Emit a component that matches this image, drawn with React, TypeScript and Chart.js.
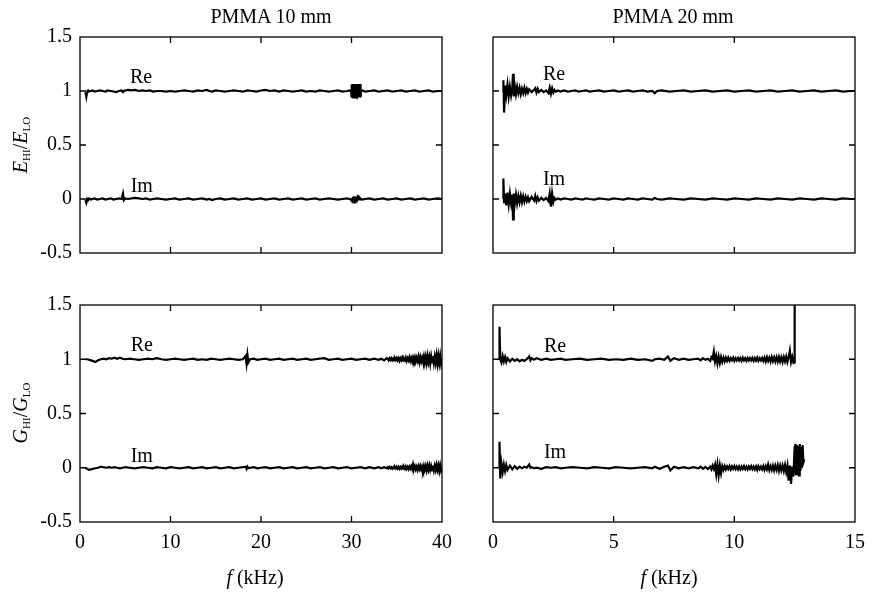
import React, { useEffect, useRef } from "react";
import { Chart, registerables } from "chart.js";

Chart.register(...registerables);

const FONT = '"Liberation Serif", "Times New Roman", serif';

// ---------- Data ----------
// Panel: E_HI/E_LO, PMMA 10 mm
const fE10 = [
  0.6, 0.7, 0.8, 0.9, 1.0, 1.2, 1.4, 1.6, 1.9, 2.2,
  2.5, 2.8, 3.1, 3.4, 3.7, 4.0, 4.3, 4.6, 4.75, 4.85,
  5.0, 5.3, 5.7, 6.1, 6.5, 6.9, 7.3, 7.7, 8.1, 8.5,
  9.0, 9.5, 10.0, 10.5, 11.0, 11.5, 12.0, 12.5, 13.0, 13.5,
  14.0, 14.3, 14.6, 15.0, 15.5, 16.0, 16.5, 17.0, 17.5, 18.0,
  18.5, 19.0, 19.5, 20.0, 20.5, 21.0, 21.5, 22.0, 22.5, 23.0,
  23.5, 24.0, 24.5, 25.0, 25.5, 26.0, 26.5, 27.0, 27.5, 28.0,
  28.5, 29.0, 29.5, 29.8, 29.95, 30.0, 30.05, 30.1, 30.15, 30.2,
  30.25, 30.3, 30.35, 30.4, 30.45, 30.5, 30.55, 30.6, 30.65, 30.7,
  30.75, 30.8, 30.85, 30.9, 30.95, 31.0, 31.05, 31.2, 31.5, 32.0,
  32.5, 33.0, 33.5, 34.0, 34.5, 35.0, 35.5, 36.0, 36.5, 37.0,
  37.5, 38.0, 38.5, 39.0, 39.5, 40.0,
];
const reE10 = [
  0.99, 0.945, 0.995, 1.005, 0.995, 1.0, 1.005, 0.995, 1.0, 1.005,
  1.0, 0.995, 1.005, 1.0, 0.995, 0.99, 1.0, 1.005, 0.99, 1.0,
  1.005, 1.01, 1.005, 1.01, 1.0, 1.005, 1.0, 1.005, 0.995, 1.0,
  1.0, 0.995, 1.0, 0.995, 1.0, 1.005, 1.0, 0.995, 1.005, 1.0,
  1.01, 1.0, 0.995, 1.005, 1.0, 0.995, 1.0, 1.005, 1.0, 0.995,
  1.005, 1.0, 0.995, 1.005, 1.01, 1.0, 1.005, 0.995, 1.005, 1.0,
  0.995, 1.0, 1.005, 0.995, 1.0, 0.995, 1.005, 1.0, 0.995, 1.0,
  1.005, 0.995, 1.0, 1.005, 0.995, 0.94, 1.06, 0.945, 1.065, 0.94,
  1.06, 0.95, 1.065, 0.94, 1.06, 0.945, 1.06, 0.94, 1.065, 0.95,
  1.06, 0.94, 1.06, 0.945, 1.065, 0.94, 1.0, 1.005, 0.995, 1.0,
  1.005, 0.995, 1.0, 1.005, 0.995, 1.0, 1.005, 0.995, 1.0, 1.005,
  0.995, 1.0, 1.005, 0.995, 1.0, 1.0,
];
const imE10 = [
  -0.01, -0.035, 0.0, -0.01, 0.005, -0.005, 0.0, 0.005, -0.005, 0.0,
  0.005, -0.005, 0.0, 0.005, -0.005, 0.0, 0.005, 0.0, 0.05, -0.01,
  0.005, 0.0, 0.005, 0.01, 0.005, 0.0, 0.005, -0.005, 0.0, 0.005,
  0.0, -0.005, 0.0, 0.005, -0.005, 0.0, 0.005, -0.005, 0.0, 0.005,
  -0.005, 0.0, -0.01, 0.0, 0.005, -0.005, 0.0, 0.005, -0.005, 0.0,
  0.005, -0.005, 0.0, 0.005, -0.005, 0.0, 0.005, -0.005, 0.0, 0.005,
  -0.005, 0.0, 0.005, -0.005, 0.0, 0.005, -0.005, 0.0, 0.005, 0.0,
  -0.005, 0.0, 0.005, 0.0, -0.005, 0.005, -0.003, 0.005, -0.003, 0.006,
  -0.003, 0.005, -0.004, 0.005, -0.003, 0.006, -0.004, 0.005, -0.003, 0.005,
  -0.003, 0.004, -0.003, 0.005, -0.003, 0.004, 0.0, -0.005, 0.0, 0.005,
  -0.005, 0.0, 0.005, -0.005, 0.0, 0.005, -0.005, 0.0, 0.005, -0.005,
  0.0, 0.005, -0.005, 0.0, 0.005, 0.0,
];

// Panel: E_HI/E_LO, PMMA 20 mm
const fE20 = [
  0.42, 0.43, 0.46, 0.5, 0.55, 0.6, 0.65, 0.7, 0.75, 0.8,
  0.83, 0.86, 0.9, 0.95, 1.0, 1.05, 1.1, 1.15, 1.2, 1.25,
  1.3, 1.35, 1.4, 1.45, 1.5, 1.6, 1.7, 1.75, 1.8, 1.85,
  1.9, 2.0, 2.1, 2.2, 2.3, 2.35, 2.4, 2.45, 2.5, 2.55,
  2.6, 2.7, 2.8, 2.95, 3.1, 3.25, 3.4, 3.55, 3.7, 3.85,
  4.0, 4.2, 4.4, 4.6, 4.8, 5.0, 5.2, 5.4, 5.6, 5.8,
  6.0, 6.2, 6.4, 6.6, 6.7, 6.8, 7.0, 7.3, 7.6, 7.9,
  8.2, 8.5, 8.8, 9.1, 9.4, 9.7, 10.0, 10.3, 10.6, 10.9,
  11.2, 11.5, 11.8, 12.1, 12.4, 12.7, 13.0, 13.3, 13.6, 13.9,
  14.2, 14.5, 14.8, 15.0,
];
const reE20 = [
  1.0, 1.1, 0.8, 1.05, 0.96, 1.06, 0.95, 1.04, 0.96, 1.03,
  1.16, 0.95, 1.05, 0.97, 1.04, 0.98, 1.03, 0.97, 1.02, 0.98,
  1.03, 0.98, 1.02, 0.985, 1.015, 0.99, 1.01, 1.025, 0.985, 1.02,
  0.99, 1.01, 0.99, 1.005, 0.98, 1.03, 0.975, 1.025, 0.985, 1.01,
  0.995, 1.005, 0.995, 1.005, 0.995, 1.0, 1.005, 0.995, 1.0, 1.005,
  0.995, 1.0, 1.005, 0.995, 1.0, 1.005, 0.995, 1.0, 1.005, 0.995,
  1.0, 1.005, 0.995, 1.0, 0.98, 1.0, 1.005, 0.995, 1.0, 1.005,
  0.995, 1.0, 1.005, 0.995, 1.0, 1.005, 0.995, 1.0, 1.005, 0.995,
  1.0, 1.005, 0.995, 1.0, 1.005, 0.995, 1.0, 1.005, 0.995, 1.0,
  1.005, 0.995, 1.0, 1.0,
];
const imE20 = [
  0.0, 0.19, -0.04, 0.05, -0.06, 0.06, -0.05, 0.05, -0.04, 0.04,
  -0.19, 0.05, -0.05, 0.04, -0.04, 0.03, -0.03, 0.03, -0.03, 0.025,
  -0.025, 0.02, -0.02, 0.015, -0.02, 0.02, -0.015, 0.03, -0.02, 0.015,
  -0.015, 0.01, -0.01, 0.01, -0.02, 0.05, -0.07, 0.05, -0.03, 0.01,
  -0.005, 0.005, -0.005, 0.005, 0.0, -0.005, 0.005, 0.0, -0.005, 0.005,
  0.0, -0.005, 0.005, 0.0, -0.005, 0.005, 0.0, -0.005, 0.005, 0.0,
  -0.005, 0.005, 0.0, -0.005, 0.01, 0.0, -0.005, 0.005, 0.0, -0.005,
  0.005, 0.0, -0.005, 0.005, 0.0, -0.005, 0.005, 0.0, -0.005, 0.005,
  0.0, -0.005, 0.005, 0.0, -0.005, 0.005, 0.0, -0.005, 0.005, 0.0,
  -0.005, 0.005, 0.0, 0.0,
];

// Panel: G_HI/G_LO, PMMA 10 mm
const fG10 = [
  0.6, 0.8, 1.0, 1.2, 1.4, 1.7, 2.0, 2.3, 2.6, 2.9,
  3.2, 3.5, 3.8, 4.1, 4.4, 4.7, 5.0, 5.5, 6.0, 6.5,
  7.0, 7.5, 8.0, 8.5, 9.0, 9.5, 10.0, 10.5, 11.0, 11.5,
  12.0, 12.5, 13.0, 13.5, 14.0, 14.5, 15.0, 15.5, 16.0, 16.5,
  17.0, 17.5, 18.0, 18.3, 18.4, 18.5, 18.6, 18.8, 19.2, 19.6,
  20.0, 20.5, 21.0, 21.5, 22.0, 22.5, 23.0, 23.5, 24.0, 24.5,
  25.0, 25.5, 26.0, 26.5, 27.0, 27.5, 28.0, 28.5, 29.0, 29.5,
  30.0, 30.5, 31.0, 31.5, 32.0, 32.5, 33.0, 33.3, 33.6, 33.9,
  34.0, 34.1, 34.2, 34.3, 34.4, 34.5, 34.6, 34.7, 34.8, 34.9,
  35.0, 35.1, 35.2, 35.3, 35.4, 35.5, 35.6, 35.7, 35.8, 35.9,
  36.0, 36.1, 36.2, 36.3, 36.4, 36.5, 36.6, 36.7, 36.8, 36.9,
  37.0, 37.1, 37.2, 37.3, 37.4, 37.5, 37.6, 37.7, 37.8, 37.9,
  38.0, 38.1, 38.2, 38.3, 38.4, 38.5, 38.6, 38.7, 38.8, 38.9,
  39.0, 39.1, 39.2, 39.3, 39.4, 39.5, 39.6, 39.7, 39.8, 39.9,
  40.0,
];
const reG10 = [
  1.0, 1.0, 0.995, 0.99, 0.985, 0.975, 0.99, 1.0, 1.005, 1.0,
  1.01, 1.005, 1.015, 1.005, 1.015, 1.005, 1.0, 1.005, 1.0, 0.995,
  1.0, 1.005, 1.0, 1.01, 1.0, 0.995, 1.0, 1.005, 1.0, 0.995,
  1.0, 1.005, 0.995, 1.0, 0.995, 1.005, 1.0, 0.995, 1.0, 1.005,
  1.0, 0.995, 1.0, 1.03, 0.96, 1.04, 0.97, 1.0, 1.005, 0.995,
  1.0, 1.005, 0.995, 1.0, 1.005, 0.995, 1.0, 1.005, 0.995, 1.0,
  1.005, 0.995, 1.0, 1.005, 1.01, 0.995, 1.0, 1.005, 0.995, 1.0,
  1.005, 0.995, 1.0, 1.005, 0.995, 1.005, 0.995, 1.005, 0.99, 1.01,
  1.005, 0.99, 1.01, 0.995, 1.01, 0.99, 1.005, 0.99, 1.01, 0.995,
  1.012, 0.99, 1.008, 0.985, 1.01, 0.992, 1.015, 0.988, 1.005, 0.99,
  1.015, 0.985, 1.01, 0.99, 1.02, 0.985, 1.012, 0.98, 1.018, 0.99,
  1.02, 0.98, 1.015, 0.985, 1.025, 0.975, 1.02, 0.98, 1.015, 0.978,
  1.025, 0.97, 1.02, 0.965, 1.03, 0.975, 1.02, 0.96, 1.025, 0.97,
  1.03, 0.965, 1.025, 0.97, 1.035, 0.96, 1.03, 0.965, 1.03, 0.96,
  1.0,
];
const imG10 = [
  0.0, -0.01, -0.02, -0.015, -0.01, -0.005, 0.0, 0.01, 0.005, 0.0,
  0.005, 0.0, 0.005, 0.0, -0.005, 0.0, 0.005, 0.0, -0.005, 0.0,
  0.005, 0.0, -0.005, 0.005, 0.0, -0.005, 0.005, 0.0, -0.005, 0.0,
  0.005, -0.005, 0.0, 0.005, -0.005, 0.0, 0.005, -0.005, 0.0, 0.005,
  -0.005, 0.0, 0.005, 0.01, -0.01, 0.01, -0.005, 0.0, 0.005, -0.005,
  0.0, 0.005, -0.005, 0.0, 0.005, -0.005, 0.0, 0.005, -0.005, 0.0,
  0.005, -0.005, 0.0, 0.005, -0.005, 0.0, 0.005, -0.005, 0.0, 0.005,
  -0.005, 0.0, 0.005, -0.005, 0.005, -0.005, 0.005, -0.005, 0.005, -0.005,
  0.005, -0.005, 0.008, -0.004, 0.006, -0.008, 0.004, -0.006, 0.008, -0.005,
  0.01, -0.008, 0.006, -0.01, 0.008, -0.006, 0.01, -0.008, 0.006, -0.01,
  0.012, -0.01, 0.008, -0.012, 0.01, -0.008, 0.014, -0.01, 0.03, -0.012,
  0.015, -0.015, 0.01, -0.02, 0.015, -0.012, 0.018, -0.015, 0.012, -0.02,
  0.018, -0.02, 0.015, -0.025, 0.02, -0.018, 0.022, -0.02, 0.015, -0.025,
  0.02, -0.025, 0.018, -0.02, 0.025, -0.02, 0.02, -0.03, 0.022, -0.025,
  0.0,
];

// Panel: G_HI/G_LO, PMMA 20 mm
const fG20 = [
  0.25, 0.27, 0.3, 0.35, 0.4, 0.45, 0.5, 0.55, 0.6, 0.7,
  0.8, 0.9, 1.0, 1.1, 1.2, 1.3, 1.4, 1.5, 1.55, 1.6,
  1.7, 1.8, 2.0, 2.2, 2.4, 2.6, 2.8, 3.0, 3.3, 3.6,
  3.9, 4.2, 4.5, 4.8, 5.1, 5.4, 5.7, 6.0, 6.3, 6.6,
  6.7, 6.9, 7.1, 7.25, 7.35, 7.5, 7.7, 7.9, 8.1, 8.3,
  8.5, 8.6, 8.7, 8.8, 8.9, 9.0, 9.05, 9.1, 9.15, 9.2,
  9.25, 9.3, 9.35, 9.4, 9.45, 9.5, 9.55, 9.6, 9.65, 9.7,
  9.75, 9.8, 9.85, 9.9, 9.95, 10.0, 10.05, 10.1, 10.15, 10.2,
  10.25, 10.3, 10.35, 10.4, 10.45, 10.5, 10.55, 10.6, 10.65, 10.7,
  10.75, 10.8, 10.85, 10.9, 10.95, 11.0, 11.05, 11.1, 11.15, 11.2,
  11.25, 11.3, 11.35, 11.4, 11.45, 11.5, 11.55, 11.6, 11.65, 11.7,
  11.75, 11.8, 11.85, 11.9, 11.95, 12.0, 12.05, 12.1, 12.15, 12.2,
  12.25, 12.3, 12.35, 12.4, 12.45, 12.5, 12.5, 12.53, 12.56, 12.59,
  12.62, 12.65, 12.68, 12.71, 12.74, 12.77, 12.8, 12.83, 12.86, 12.9,
];
const reG20 = [
  1.0, 1.3, 1.0, 0.97, 1.03, 0.98, 1.02, 0.975, 1.01, 0.98,
  1.005, 0.985, 1.0, 0.98, 0.995, 0.985, 1.0, 1.025, 0.99, 1.01,
  0.995, 1.01, 0.995, 1.005, 0.995, 1.0, 1.005, 0.995, 1.0, 1.005,
  0.995, 1.0, 1.005, 0.995, 1.0, 0.995, 1.005, 0.995, 1.0, 0.985,
  1.0, 1.005, 0.995, 1.025, 0.985, 1.01, 0.995, 1.005, 0.995, 1.0,
  1.005, 0.99, 1.01, 0.995, 1.005, 0.985, 1.02, 1.005, 1.07, 0.98,
  1.03, 0.96, 1.025, 0.965, 1.02, 0.975, 1.015, 0.98, 1.015, 0.985,
  1.015, 0.985, 1.01, 0.99, 1.015, 0.985, 1.01, 0.99, 1.012, 0.988,
  1.01, 0.985, 1.015, 0.99, 1.01, 0.985, 1.012, 0.988, 1.01, 0.99,
  1.012, 0.985, 1.01, 0.988, 1.015, 0.985, 1.01, 0.99, 1.012, 0.985,
  1.015, 0.98, 1.02, 0.985, 1.015, 0.978, 1.02, 0.982, 1.018, 0.98,
  1.02, 0.978, 1.022, 0.98, 1.018, 0.975, 1.02, 0.98, 1.025, 0.975,
  1.02, 1.08, 0.975, 1.02, 0.965, 0.97, 2.0, null, null, null,
  null, null, null, null, null, null, null, null, null, null,
];
const imG20 = [
  0.0, 0.24, -0.1, 0.04, -0.04, 0.03, -0.03, 0.025, -0.02, 0.02,
  -0.015, 0.015, -0.01, 0.01, -0.005, 0.01, 0.0, 0.03, 0.0, 0.005,
  -0.005, 0.0, -0.01, 0.005, 0.0, 0.005, -0.005, 0.0, 0.005, 0.0,
  -0.005, 0.005, 0.0, -0.005, 0.005, 0.0, -0.005, 0.0, 0.005, -0.005,
  0.01, -0.01, 0.01, 0.02, -0.025, 0.01, -0.005, 0.005, -0.005, 0.005,
  -0.005, 0.01, -0.01, 0.008, -0.012, 0.01, -0.015, 0.02, -0.01, 0.03,
  -0.06, 0.03, -0.07, 0.02, -0.05, 0.015, -0.02, 0.015, -0.015, 0.012,
  -0.012, 0.015, -0.015, 0.012, -0.01, 0.015, -0.012, 0.01, -0.015, 0.012,
  -0.015, 0.012, -0.01, 0.015, -0.012, 0.01, -0.015, 0.012, -0.01, 0.015,
  -0.012, 0.01, -0.015, 0.012, -0.02, 0.015, -0.012, 0.01, -0.015, 0.015,
  -0.02, 0.015, -0.015, 0.03, -0.02, 0.015, -0.02, 0.02, -0.025, 0.02,
  -0.02, 0.025, -0.03, 0.02, -0.025, 0.02, -0.03, 0.025, -0.04, 0.02,
  -0.12, 0.02, -0.15, 0.01, -0.08, 0.2, -0.05, 0.22, -0.06, 0.21,
  -0.04, 0.2, -0.07, 0.22, -0.03, 0.19, 0.0, 0.21, 0.05, 0.08,
];

const yTicks = [-0.5, 0, 0.5, 1, 1.5];

type Label = { text: string; x: number; y: number };
type Spec = {
  left: number; top: number; w: number; h: number;
  padL: number; padR: number; padT: number; padB: number;
  yAxisW: number; xAxisH: number;
  showX: boolean; showY: boolean;
  xMax: number; xStep: number;
  f: number[]; re: (number | null)[]; im: (number | null)[];
  labels: Label[];
};

const specs: Spec[] = [
  {
    left: 0, top: 0, w: 465, h: 270, padL: 0, padR: 23, padT: 37, padB: 17,
    yAxisW: 80, xAxisH: 0, showX: false, showY: true, xMax: 40, xStep: 10,
    f: fE10, re: reE10, im: imE10,
    labels: [{ text: "Re", x: 5.52, y: 1.076 }, { text: "Im", x: 5.6, y: 0.064 }],
  },
  {
    left: 465, top: 0, w: 404, h: 270, padL: 0, padR: 14, padT: 37, padB: 17,
    yAxisW: 28, xAxisH: 0, showX: false, showY: false, xMax: 15, xStep: 5,
    f: fE20, re: reE20, im: imE20,
    labels: [{ text: "Re", x: 2.07, y: 1.1 }, { text: "Im", x: 2.07, y: 0.13 }],
  },
  {
    left: 0, top: 270, w: 465, h: 323, padL: 0, padR: 23, padT: 35, padB: 31,
    yAxisW: 80, xAxisH: 40, showX: true, showY: true, xMax: 40, xStep: 10,
    f: fG10, re: reG10, im: imG10,
    labels: [{ text: "Re", x: 5.6, y: 1.074 }, { text: "Im", x: 5.6, y: 0.056 }],
  },
  {
    left: 465, top: 270, w: 404, h: 323, padL: 0, padR: 14, padT: 35, padB: 31,
    yAxisW: 28, xAxisH: 40, showX: true, showY: false, xMax: 15, xStep: 5,
    f: fG20, re: reG20, im: imG20,
    labels: [{ text: "Re", x: 2.11, y: 1.065 }, { text: "Im", x: 2.11, y: 0.093 }],
  },
];

const framePlugin = {
  id: "frameTicks",
  afterDraw(chart: any) {
    const { ctx, chartArea } = chart;
    const { left, right, top, bottom } = chartArea;
    const xs = chart.scales.x;
    const ys = chart.scales.y;
    ctx.save();
    ctx.strokeStyle = "#000";
    ctx.lineWidth = 1.3;
    ctx.strokeRect(left, top, right - left, bottom - top);
    const L = 6;
    ctx.beginPath();
    xs.ticks.forEach((t: any) => {
      const px = xs.getPixelForValue(t.value);
      if (px <= left + 1 || px >= right - 1) return;
      ctx.moveTo(px, bottom);
      ctx.lineTo(px, bottom - L);
      ctx.moveTo(px, top);
      ctx.lineTo(px, top + L);
    });
    ys.ticks.forEach((t: any) => {
      const py = ys.getPixelForValue(t.value);
      if (py <= top + 1 || py >= bottom - 1) return;
      ctx.moveTo(left, py);
      ctx.lineTo(left + L, py);
      ctx.moveTo(right, py);
      ctx.lineTo(right - L, py);
    });
    ctx.stroke();
    ctx.restore();
  },
};

const labelPlugin = {
  id: "seriesLabels",
  afterDraw(chart: any, _args: any, opts: any) {
    const { ctx } = chart;
    const xs = chart.scales.x;
    const ys = chart.scales.y;
    ctx.save();
    ctx.fillStyle = "#000";
    ctx.font = `20px ${FONT}`;
    ctx.textAlign = "left";
    ctx.textBaseline = "alphabetic";
    (opts.items || []).forEach((l: Label) => {
      ctx.fillText(l.text, xs.getPixelForValue(l.x), ys.getPixelForValue(l.y));
    });
    ctx.restore();
  },
};

function makeConfig(s: Spec): any {
  const line = (vals: (number | null)[]) => ({
    data: s.f.map((x, i) => ({ x, y: vals[i] })),
    borderColor: "#000",
    borderWidth: 2.2,
    pointRadius: 0,
    tension: 0,
    fill: false,
    clip: 0,
  });
  const tickFont = { family: FONT, size: 20 };
  return {
    type: "line",
    data: { datasets: [line(s.re), line(s.im)] },
    options: {
      animation: false,
      responsive: false,
      events: [],
      layout: { padding: { left: s.padL, right: s.padR, top: s.padT, bottom: s.padB } },
      plugins: {
        legend: { display: false },
        tooltip: { enabled: false },
        seriesLabels: { items: s.labels },
      },
      scales: {
        x: {
          type: "linear",
          min: 0,
          max: s.xMax,
          ticks: {
            display: s.showX,
            stepSize: s.xStep,
            color: "#000",
            font: tickFont,
            padding: 9,
            maxRotation: 0,
            callback: (v: any) => String(v),
          },
          grid: { display: false, drawTicks: false },
          border: { display: false },
          afterFit: (sc: any) => {
            sc.height = s.xAxisH;
            sc.paddingLeft = 0;
            sc.paddingRight = 0;
          },
        },
        y: {
          type: "linear",
          min: yTicks[0],
          max: yTicks[yTicks.length - 1],
          afterBuildTicks: (sc: any) => { sc.ticks = yTicks.map((v) => ({ value: v })); },
          ticks: {
            display: s.showY,
            color: "#000",
            font: tickFont,
            padding: 8,
            callback: (v: any) => String(v),
          },
          grid: { display: false, drawTicks: false },
          border: { display: false },
          afterFit: (sc: any) => {
            sc.width = s.yAxisW;
            sc.paddingTop = 0;
            sc.paddingBottom = 0;
          },
        },
      },
    },
    plugins: [framePlugin, labelPlugin],
  };
}

function Panel({ s }: { s: Spec }) {
  const ref = useRef<HTMLCanvasElement>(null);
  useEffect(() => {
    const chart = new Chart(ref.current as HTMLCanvasElement, makeConfig(s));
    return () => chart.destroy();
  }, [s]);
  return (
    <canvas
      ref={ref}
      width={s.w}
      height={s.h}
      style={{ position: "absolute", left: s.left, top: s.top, width: s.w, height: s.h }}
    />
  );
}

const textBase: React.CSSProperties = {
  position: "absolute",
  fontFamily: FONT,
  fontSize: 20,
  color: "#000",
  whiteSpace: "nowrap",
  lineHeight: 1,
};
const subStyle: React.CSSProperties = { fontSize: 11, verticalAlign: "-3px" };

function YTitle({ sym, cx, cy }: { sym: string; cx: number; cy: number }) {
  return (
    <div style={{ ...textBase, left: cx, top: cy, transform: "translate(-50%, -50%) rotate(-90deg)" }}>
      <i>{sym}</i><span style={subStyle}>HI</span>/<i>{sym}</i><span style={subStyle}>LO</span>
    </div>
  );
}

function Centered({ cx, cy, children }: { cx: number; cy: number; children: React.ReactNode }) {
  return <div style={{ ...textBase, left: cx, top: cy, transform: "translate(-50%, -50%)" }}>{children}</div>;
}

export default function App() {
  return (
    <div style={{ position: "absolute", left: 0, top: 0, width: 869, height: 593, background: "#fff", overflow: "hidden" }}>
      {specs.map((s, i) => (
        <Panel key={i} s={s} />
      ))}
      <Centered cx={271} cy={16}>PMMA 10 mm</Centered>
      <Centered cx={673} cy={16}>PMMA 20 mm</Centered>
      <YTitle sym="E" cx={21} cy={145} />
      <YTitle sym="G" cx={21} cy={413} />
      <Centered cx={255} cy={577}><i>f</i> (kHz)</Centered>
      <Centered cx={669} cy={577}><i>f</i> (kHz)</Centered>
    </div>
  );
}
